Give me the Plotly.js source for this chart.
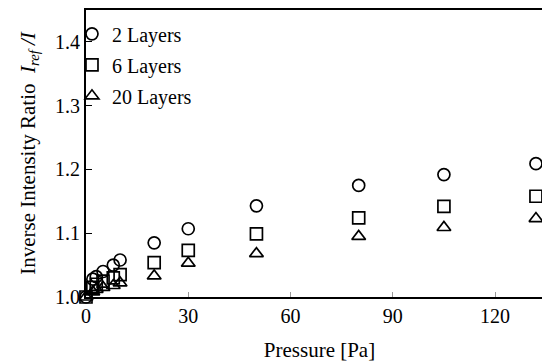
<!DOCTYPE html>
<html>
<head>
<meta charset="utf-8">
<script src="https://cdn.plot.ly/plotly-3.0.1.min.js"></script>
<style>
html,body{margin:0;padding:0;overflow:hidden;width:542px;height:362px;background:#fff;}
#chart{width:556px;height:362px;}
</style>
</head>
<body>
<div id="chart"></div>
<script>
const pressure = [0, 2, 3, 5, 8, 10, 20, 30, 50, 80, 105, 132];
const layers2  = [1.000, 1.028, 1.032, 1.040, 1.050, 1.058, 1.085, 1.107, 1.143, 1.175, 1.192, 1.209];
const layers6  = [1.000, 1.015, 1.020, 1.025, 1.030, 1.035, 1.054, 1.073, 1.099, 1.124, 1.142, 1.158];
const layers20 = [1.000, 1.008, 1.012, 1.015, 1.018, 1.022, 1.033, 1.053, 1.068, 1.095, 1.109, 1.123];
const seriesNames = ['2 Layers', '6 Layers', '20 Layers'];
const xTicks = [0, 30, 60, 90, 120];
const yTicks = [1.0, 1.1, 1.2, 1.3, 1.4];

const FAM = 'Liberation Serif';
function f(sz) { return {family: FAM, size: sz, color: '#000'}; }
function mk(y, name, sym, sz, grp) {
  return {x: pressure, y: y, name: name, type: 'scatter', mode: 'markers',
    legendgroup: grp, cliponaxis: false,
    marker: {symbol: sym, size: sz, color: '#000', line: {color: '#000', width: 1.7}}};
}
const data = [
  mk(layers2, seriesNames[0], 'circle-open', 12, 'a'),
  mk(layers6, seriesNames[1], 'square-open', 12, 'b'),
  mk(layers20, seriesNames[2], 'triangle-up-open', 12, 'c')
];
const layout = {
  width: 556, height: 362,
  margin: {l: 86, r: 3, t: 10, b: 65},
  paper_bgcolor: '#fff', plot_bgcolor: '#fff',
  font: f(20),
  showlegend: true,
  legend: {x: -0.03, y: 0.985, xanchor: 'left', yanchor: 'top', traceorder: 'grouped', tracegroupgap: 2,
    bgcolor: 'rgba(0,0,0,0)', font: f(20), itemwidth: 30},
  xaxis: {range: [0, 137], tickvals: xTicks, ticktext: xTicks.map(String),
    ticks: 'inside', ticklen: 5, tickcolor: '#999', tickwidth: 1,
    showline: true, linecolor: '#000', linewidth: 2, mirror: true,
    showgrid: false, zeroline: false,
    tickfont: f(20),
    title: {text: 'Pressure [Pa]', font: f(21), standoff: 16}},
  yaxis: {range: [1.0, 1.45], tickvals: yTicks, ticktext: yTicks.map(v => v.toFixed(1)),
    ticks: 'inside', ticklen: 6, tickcolor: '#000', tickwidth: 1,
    showline: true, linecolor: '#000', linewidth: 2, mirror: true,
    showgrid: false, zeroline: false,
    tickfont: f(20),
    title: {text: 'Inverse Intensity Ratio\u00a0\u00a0<i>I</i><sub><i>ref</i></sub>\u00a0<i>/I</i>', font: f(21), standoff: 14}}
};
Plotly.newPlot('chart', data, layout, {displayModeBar: false, staticPlot: true});
</script>
</body>
</html>
